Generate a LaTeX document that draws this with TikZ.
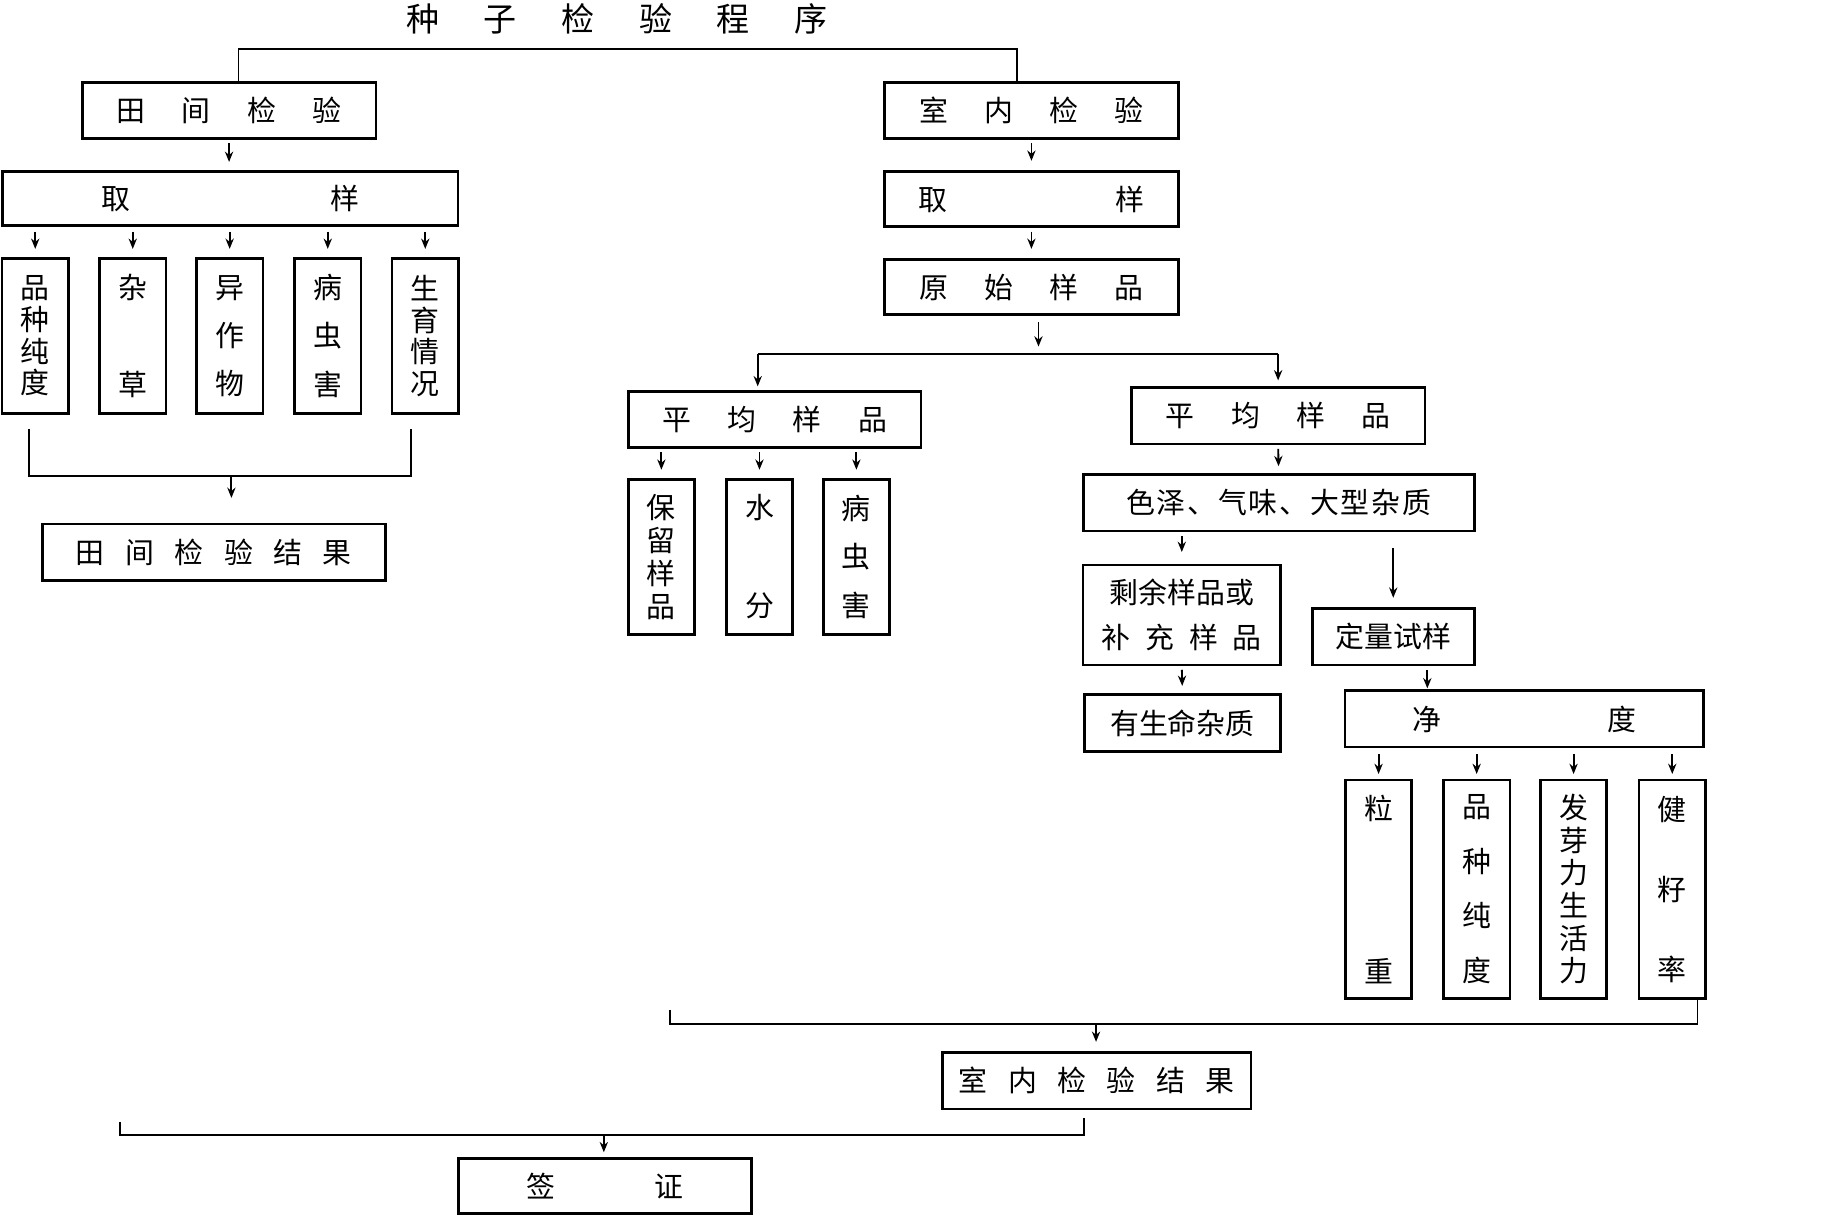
\documentclass[tikz,border=0pt]{standalone}
\usepackage{fontspec}
\setmainfont{Noto Sans CJK SC}
\usetikzlibrary{arrows.meta,calc}
\newcommand\gp[1]{\hspace{#1cm}}
\begin{document}
\begin{tikzpicture}[x=0.02cm,y=-0.02cm,
  box/.style={draw, line width=1.3pt, inner sep=0pt, font=\fontsize{14pt}{17pt}\selectfont},
  wbox/.style={box, minimum width=5cm, minimum height=0.96cm},
  tall/.style={box, minimum width=1.13cm, align=center},
  conn/.style={line width=0.9pt},
  arr/.style={conn, -{Stealth[length=5pt,width=4pt]}, shorten <=0.06cm, shorten >=0.12cm}]
\useasboundingbox (0,0) rectangle (1568,1037);

% title
\node[font=\fontsize{16pt}{19pt}\selectfont, inner sep=0pt] (title) at (525,16)
  {种\gp{0.76}子\gp{0.76}检\gp{0.76}验\gp{0.76}程\gp{0.76}序};

% ---------- left branch ----------
\node[wbox] (tj) at (195,94) {田\gp{0.62}间\gp{0.62}检\gp{0.62}验};
\node[box, minimum width=7.76cm, minimum height=0.92cm] (qyL) at (196,169) {取\gp{3.41}样};
\node[tall, minimum height=2.64cm, font=\fontsize{14pt}{0.54cm}\selectfont] (b1) at (30,286) {品\\种\\纯\\度};
\node[tall, minimum height=2.64cm, font=\fontsize{14pt}{1.64cm}\selectfont] (b2) at (113,286) {杂\\草};
\node[tall, minimum height=2.64cm, font=\fontsize{14pt}{0.82cm}\selectfont] (b3) at (195.5,286) {异\\作\\物};
\node[tall, minimum height=2.64cm, font=\fontsize{14pt}{0.82cm}\selectfont] (b4) at (279,286) {病\\虫\\害};
\node[tall, minimum height=2.64cm, font=\fontsize{14pt}{0.54cm}\selectfont] (b5) at (362,286) {生\\育\\情\\况};
\node[box, minimum width=5.84cm, minimum height=0.96cm] (tjjg) at (182,470) {田\gp{0.35}间\gp{0.35}检\gp{0.35}验\gp{0.35}结\gp{0.35}果};

% ---------- right branch ----------
\node[wbox] (snj) at (878,94) {室\gp{0.62}内\gp{0.62}检\gp{0.62}验};
\node[box, minimum width=5cm, minimum height=0.94cm] (qyR) at (878,169.5) {取\gp{2.85}样};
\node[box, minimum width=5cm, minimum height=0.94cm] (ys) at (878,244.5) {原\gp{0.62}始\gp{0.62}样\gp{0.62}品};
\node[box, minimum width=4.98cm, minimum height=0.96cm] (pjL) at (659.5,357) {平\gp{0.62}均\gp{0.62}样\gp{0.62}品};
\node[wbox] (pjR) at (1088,354) {平\gp{0.62}均\gp{0.62}样\gp{0.62}品};
\node[tall, minimum height=2.64cm, font=\fontsize{14pt}{0.56cm}\selectfont] (m1) at (563,474) {保\\留\\样\\品};
\node[tall, minimum height=2.64cm, font=\fontsize{14pt}{1.66cm}\selectfont] (m2) at (646.5,474) {水\\分};
\node[tall, minimum height=2.64cm, font=\fontsize{14pt}{0.83cm}\selectfont] (m3) at (729,474) {病\\虫\\害};
\node[box, minimum width=6.66cm, minimum height=0.96cm] (sz) at (1088.5,428) {色\gp{0.03}泽\gp{0.03}、\gp{0.03}气\gp{0.03}味\gp{0.03}、\gp{0.03}大\gp{0.03}型\gp{0.03}杂\gp{0.03}质};
\node[box, minimum width=3.36cm, minimum height=1.7cm, align=center, font=\fontsize{14pt}{0.76cm}\selectfont] (sy) at (1006,523.5)
  {剩余样品或\\补\gp{0.25}充\gp{0.25}样\gp{0.25}品};
\node[box, minimum width=2.76cm, minimum height=0.96cm] (dl) at (1186,542) {定量试样};
\node[box, minimum width=3.34cm, minimum height=0.98cm] (ysm) at (1006.5,615.5) {有生命杂质};
\node[box, minimum width=6.1cm, minimum height=0.96cm] (jd) at (1297.5,612) {净\gp{2.83}度};
\node[tall, minimum height=3.72cm, font=\fontsize{14pt}{2.78cm}\selectfont] (r1) at (1173.5,757) {粒\\重};
\node[tall, minimum height=3.72cm, font=\fontsize{14pt}{0.93cm}\selectfont] (r2) at (1257,757) {品\\种\\纯\\度};
\node[tall, minimum height=3.72cm, font=\fontsize{14pt}{0.556cm}\selectfont] (r3) at (1339.5,757) {发\\芽\\力\\生\\活\\力};
\node[tall, minimum height=3.72cm, font=\fontsize{14pt}{1.36cm}\selectfont] (r4) at (1423.5,757) {健\\籽\\率};
\node[box, minimum width=5.26cm, minimum height=0.96cm] (snjg) at (933.5,920) {室\gp{0.35}内\gp{0.35}检\gp{0.35}验\gp{0.35}结\gp{0.35}果};
\node[box, minimum width=5cm, minimum height=0.94cm] (qz) at (515,1009.5) {签\gp{1.69}证};

% ---------- connectors ----------
% top bracket
\coordinate (tl) at (203,42);
\coordinate (tr) at (866,42);
\draw[conn] (tj.north -| tl) -- (tl) -- (tr) -- (snj.north -| tr);

% left
\draw[arr, shorten >=0.14cm] (tj.south) -- (tj.south |- qyL.north);
\foreach \b in {b1,b2,b3,b4,b5}
  \draw[arr, shorten <=0.08cm, shorten >=0.14cm] (qyL.south -| \b) -- (\b.north);
\coordinate (lb1) at (25,365);
\coordinate (lb2) at (25,405);
\coordinate (lb3) at (350,405);
\coordinate (lb4) at (350,365);
\coordinate (lbm) at (197,405);
\draw[conn] (lb1) -- (lb2) -- (lb3) -- (lb4);
\draw[arr, shorten <=0pt, shorten >=0.42cm] (lbm) -- (lbm |- tjjg.north);

% right
\draw[arr, shorten >=0.16cm] (snj.south) -- (qyR.north);
\draw[arr, shorten >=0.16cm] (qyR.south) -- (ys.north);
\coordinate (sp) at (884,301);
\coordinate (spl) at (645,301);
\coordinate (spr) at (1088,301);
\draw[arr, shorten <=0.1cm, shorten >=0.12cm] (ys.south -| sp) -- (sp);
\draw[conn] (spl) -- (spr);
\draw[arr, shorten <=0pt, shorten >=0.06cm] (spl) -- (pjL.north -| spl);
\draw[arr, shorten <=0pt, shorten >=0.1cm] (spr) -- (pjR.north -| spr);
\foreach \m in {m1,m2,m3}
  \draw[arr, shorten >=0.14cm] (pjL.south -| \m) -- (\m.north);
\draw[arr] (pjR.south) -- (sz.north);
\draw[arr, shorten >=0.2cm] (sz.south -| sy) -- (sy.north);
\draw[arr, shorten <=0.26cm, shorten >=0.16cm] (sz.south -| dl) -- (dl.north);
\draw[arr] (sy.south) -- (ysm.north);
\coordinate (dj) at (1215,588);
\draw[arr, shorten >=0.04cm] (dl.south -| dj) -- (dj);
\foreach \r in {r1,r2,r3,r4}
  \draw[arr, shorten <=0.1cm, shorten >=0.08cm] (jd.south -| \r) -- (\r.north);

% bottom bracket (indoor)
\coordinate (bb1) at (570,860);
\coordinate (bb2) at (570,872);
\coordinate (bb3) at (1445,872);
\coordinate (bbm) at (933,872);
\draw[conn] (bb1) -- (bb2) -- (bb3) -- (r4.south -| bb3);
\draw[arr, shorten <=0pt, shorten >=0.16cm] (bbm) -- (bbm |- snjg.north);

% final bracket
\coordinate (fb1) at (102,955);
\coordinate (fb2) at (102,966);
\coordinate (fb3) at (923,966);
\coordinate (fb4) at (923,952);
\coordinate (fbm) at (514,966);
\draw[conn] (fb1) -- (fb2) -- (fb3) -- (fb4);
\draw[arr, shorten <=0pt, shorten >=0.08cm] (fbm) -- (fbm |- qz.north);
\end{tikzpicture}
\end{document}
